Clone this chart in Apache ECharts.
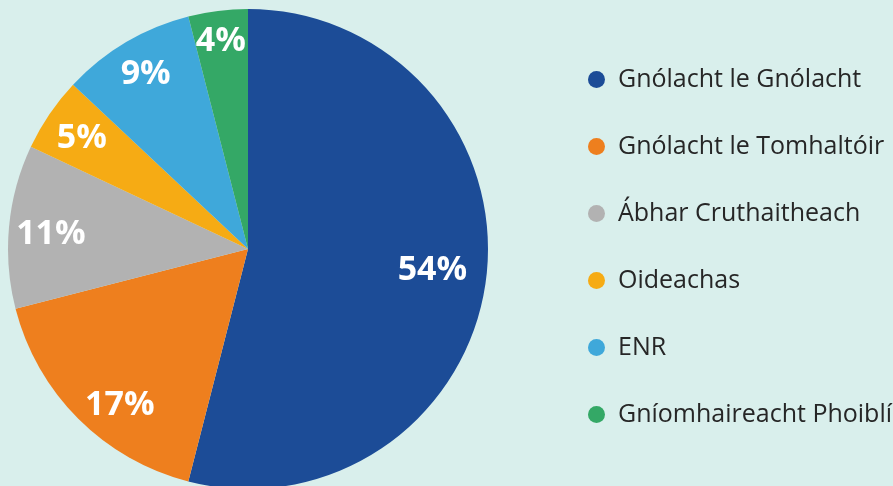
<!DOCTYPE html>
<html>
<head>
<meta charset="utf-8">
<style>
  html, body { margin: 0; padding: 0; background: #d9efec; }
  #chart { width: 893px; height: 486px; }
</style>
<script src="https://cdn.jsdelivr.net/npm/echarts@6/dist/echarts.min.js"></script>
</head>
<body>
<div id="chart"></div>
<script>
// sectors, clockwise from the top
const categories = ['Gnólacht le Gnólacht', 'Gnólacht le Tomhaltóir', 'Ábhar Cruthaitheach', 'Oideachas', 'ENR', 'Gníomhaireacht Phoiblí']
const shares = [54, 17, 11, 5, 9, 4]
const colors = ['#1c4c97', '#ee7f1e', '#b2b2b2', '#f6ab14', '#3fa8da', '#34a866']
// small nudges so the percent labels sit where the original put them
const labelNudge = [[-15, -4], [14, 14], [3, 4], [0, 2], [0, -2], [-2, -8]]

const chart = echarts.init(document.getElementById('chart'))

const pieData = categories.map((name, i) => ({ name: name, value: shares[i] }))
const labelData = categories.map((name, i) => ({
  name: name,
  value: shares[i],
  label: { offset: labelNudge[i] }
}))

const option = {
  backgroundColor: '#d9efec',
  color: colors,
  animation: false,
  legend: {
    orient: 'vertical',
    left: 588,
    top: 67,
    padding: 0,
    icon: 'circle',
    itemWidth: 17,
    itemHeight: 17,
    itemGap: 42,
    data: categories,
    textStyle: {
      fontFamily: 'Open Sans',
      fontSize: 25,
      lineHeight: 21,
      color: '#262626',
      padding: [0, 0, 0, 8]
    }
  },
  series: [
    {
      type: 'pie',
      center: [248, 249],
      radius: [0, 240],
      startAngle: 90,
      clockwise: true,
      silent: true,
      label: { show: false },
      labelLine: { show: false },
      data: pieData
    },
    {
      // transparent ring used only to put the percent labels near the rim
      type: 'pie',
      center: [248, 249],
      radius: [156, 240],
      startAngle: 90,
      clockwise: true,
      silent: true,
      itemStyle: { color: 'rgba(0,0,0,0)' },
      label: {
        show: true,
        position: 'inside',
        formatter: '{c}%',
        color: '#ffffff',
        fontFamily: 'Open Sans',
        fontWeight: 'bold',
        fontSize: 34
      },
      labelLine: { show: false },
      data: labelData
    }
  ]
}

chart.setOption(option)
</script>
</body>
</html>
